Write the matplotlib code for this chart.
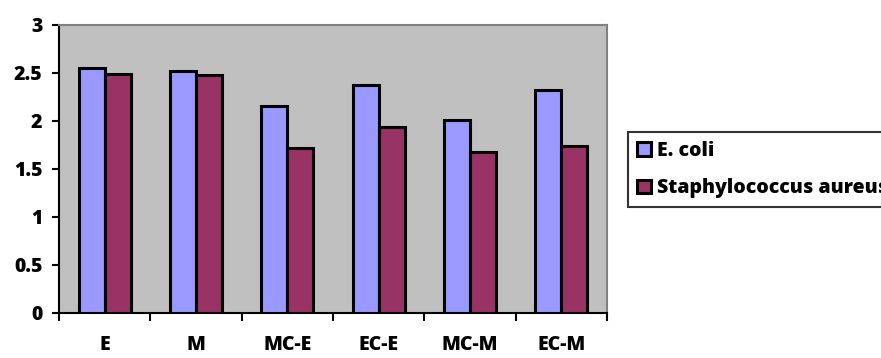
import matplotlib
matplotlib.use("Agg")
import matplotlib.pyplot as plt
import numpy as np

categories = ["E", "M", "MC-E", "EC-E", "MC-M", "EC-M"]
ecoli = [2.55, 2.52, 2.16, 2.38, 2.01, 2.32]
saureus = [2.49, 2.48, 1.72, 1.94, 1.68, 1.74]
series_names = ["E. coli", "Staphylococcus aureus"]
yticks = [0, 0.5, 1, 1.5, 2, 2.5, 3]

plt.rcParams['font.family'] = ['Open Sans', 'DejaVu Sans']
plt.rcParams['font.weight'] = 'bold'
FS = 14

fig = plt.figure(figsize=(8.81, 3.58), dpi=100)
W, H = 881, 358
ax = fig.add_axes([59 / W, 1 - 313 / H, (607 - 59) / W, (313 - 25) / H])
ax.set_facecolor("#C0C0C0")

x = np.arange(len(categories))
bw = 0.285
ax.bar(x - bw / 2, ecoli, bw, color="#9999FF", edgecolor="black", linewidth=2.2, label=series_names[0], zorder=3)
ax.bar(x + bw / 2, saureus, bw, color="#993366", edgecolor="black", linewidth=2.2, label=series_names[1], zorder=3)

ax.set_xlim(-0.5, len(categories) - 0.5)
ax.set_ylim(0, 3)
ax.set_yticks(yticks)
ax.set_yticklabels([f"{v:g}" for v in yticks], fontsize=FS, fontweight='heavy')
ax.set_xticks(np.arange(-0.5, len(categories), 1.0))
ax.set_xticklabels([])
ax.set_xticks(x, minor=True)
ax.set_xticklabels(categories, minor=True, fontsize=FS, fontweight='heavy')
ax.tick_params(axis='x', which='minor', length=0, pad=16)
ax.tick_params(axis='x', which='major', direction='out', length=6, width=1.5)
ax.tick_params(axis='y', direction='out', length=5, width=1.5, pad=7)

for s in ['left', 'bottom']:
    ax.spines[s].set_color('black')
    ax.spines[s].set_linewidth(1.5)
for s in ['top', 'right']:
    ax.spines[s].set_color('#808080')
    ax.spines[s].set_linewidth(1.5)

leg = fig.legend(loc='upper left', bbox_to_anchor=(628 / W, 1 - 132 / H),
                 frameon=True, fancybox=False, prop={'weight': 'heavy', 'size': FS},
                 handlelength=0.72, handleheight=0.72, handletextpad=0.3,
                 borderpad=0.45, labelspacing=0.9, borderaxespad=0)
leg.get_frame().set_edgecolor('black')
leg.get_frame().set_linewidth(1.5)

fig.savefig("out.png", dpi=100)
